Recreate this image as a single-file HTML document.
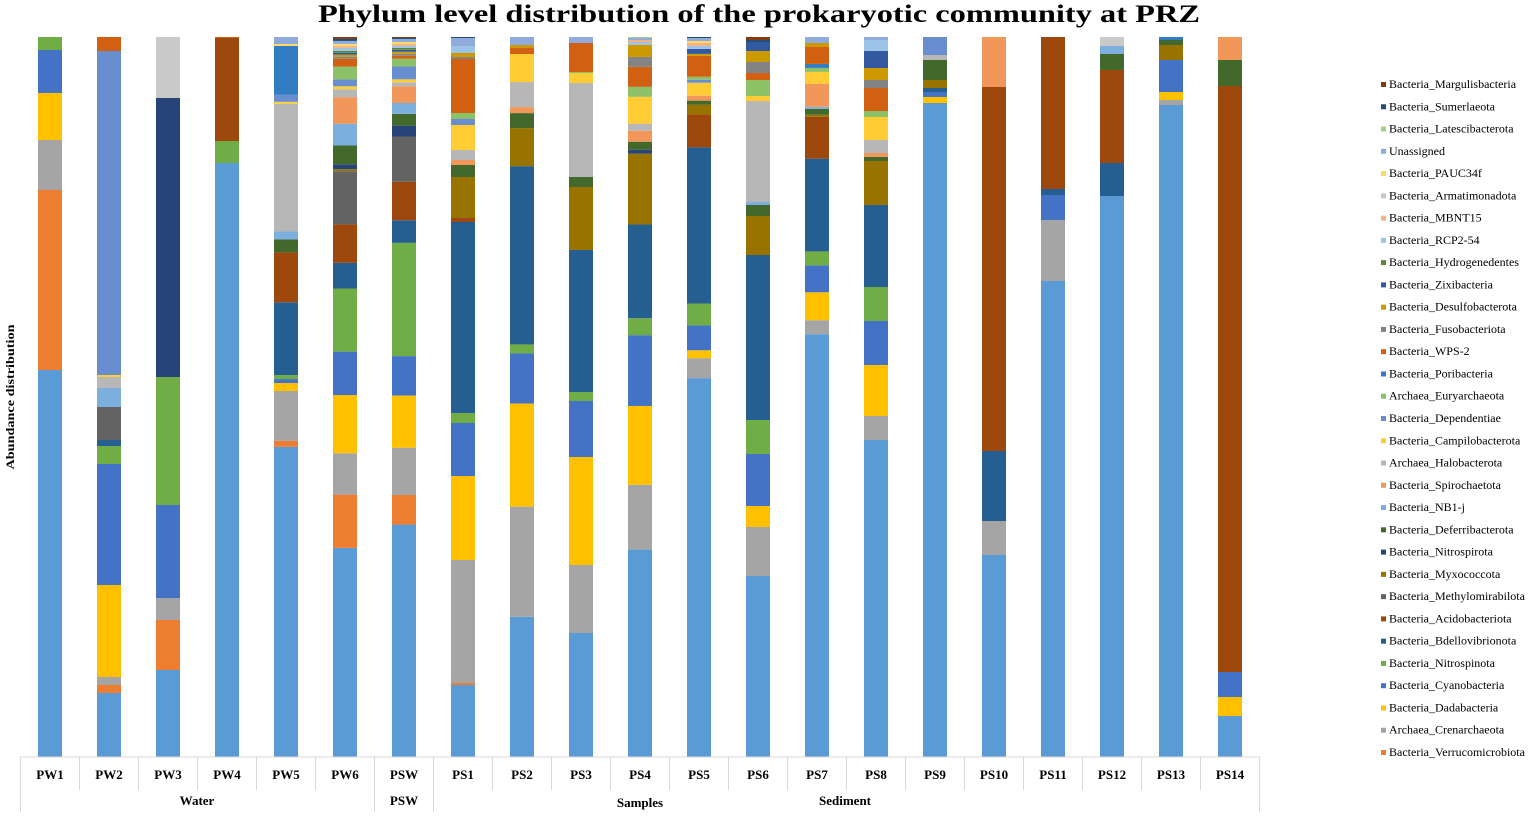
<!DOCTYPE html>
<html><head><meta charset="utf-8"><style>
body{margin:0;background:#fff;}
svg text{font-family:"Liberation Serif",serif;}
</style></head><body>
<svg id="chart" width="1535" height="814" xmlns="http://www.w3.org/2000/svg">
<text x="318" y="22" font-size="25" font-weight="bold" textLength="882" lengthAdjust="spacingAndGlyphs">Phylum level distribution of the prokaryotic community at PRZ</text>
<text transform="translate(14,397) rotate(-90)" text-anchor="middle" font-size="12" font-weight="bold" textLength="145" lengthAdjust="spacingAndGlyphs">Abundance  distribution</text>
<g id="bars"></g><g id="axis"></g><g id="legend"></g>
</svg>
<script>
const categories=["PW1","PW2","PW3","PW4","PW5","PW6","PSW","PS1","PS2","PS3","PS4","PS5","PS6","PS7","PS8","PS9","PS10","PS11","PS12","PS13","PS14"];
const seriesNames=["Bacteria_Proteobacteria","Bacteria_Verrucomicrobiota","Archaea_Crenarchaeota","Bacteria_Dadabacteria","Bacteria_Cyanobacteria","Bacteria_Nitrospinota","Bacteria_Bdellovibrionota","Bacteria_Acidobacteriota","Bacteria_Methylomirabilota","Bacteria_Myxococcota","Bacteria_Nitrospirota","Bacteria_Deferribacterota","Bacteria_NB1-j","Bacteria_Spirochaetota","Archaea_Halobacterota","Bacteria_Campilobacterota","Bacteria_Dependentiae","Archaea_Euryarchaeota","Bacteria_Poribacteria","Bacteria_WPS-2","Bacteria_Fusobacteriota","Bacteria_Desulfobacterota","Bacteria_Zixibacteria","Bacteria_Hydrogenedentes","Bacteria_RCP2-54","Bacteria_MBNT15","Bacteria_Armatimonadota","Bacteria_PAUC34f","Unassigned","Bacteria_Latescibacterota","Bacteria_Sumerlaeota","Bacteria_Margulisbacteria"];
const seriesColors=["#5B9BD5","#ED7D31","#A5A5A5","#FFC000","#4472C4","#70AD47","#255E91","#9E480E","#636363","#997300","#264478","#43682B","#7CAFDD","#F1975A","#B7B7B7","#FFCD33","#698ED0","#8CC168","#327DC2","#D26012","#848484","#CC9A00","#335AA1","#5A8A39","#9DC3E6","#F4B183","#C9C9C9","#FFD966","#8FAADC","#A9D18E","#1F4E79","#843C0C"];
const s0=[387,64,87,594,311,212,236,72,140,124,208,381,181,424,317,654,202,476,561,652,41];
const s1=[180,8,50,0,6,54,30,2,0,0,0,0,0,0,0,0,0,0,0,0,0];
const s2=[50,8,22,0,50,42,48,123,110,68,65,20,49,14,24,0,34,61,0,5,0];
const s3=[47,92,0,0,8,59,53,84,103,108,79,8,21,28,51,6,0,0,0,8,19];
const s4=[43,121,93,0,4,44,40,53,50,56,71,25,52,27,44,5,0,25,0,32,25];
const s5=[13,18,128,22,4,64,115,10,9,9,17,22,34,14,34,0,0,0,0,0,0];
const s6=[0,6,0,0,73,26,23,191,178,142,94,157,165,93,82,4,70,6,33,0,0];
const s7=[0,0,0,103,50,39,39,4,0,0,0,33,0,42,0,0,364,152,93,0,586];
const s8=[0,33,0,0,0,54,46,0,0,0,0,0,0,0,0,0,0,0,0,0,0];
const s9=[0,0,0,0,0,2,0,41,38,63,71,10,39,2,44,8,0,0,0,15,0];
const s10=[0,0,279,0,0,5,11,0,0,0,4,0,0,0,0,0,0,0,0,0,0];
const s11=[0,0,0,0,13,19,12,12,15,10,8,4,11,6,4,20,0,0,16,5,26];
const s12=[0,19,0,0,8,22,11,0,0,0,0,0,3,2,0,0,0,0,8,0,0];
const s13=[0,0,0,0,0,27,17,5,6,0,11,5,0,23,4,0,50,0,0,0,23];
const s14=[0,11,0,0,128,8,4,10,25,94,7,0,101,0,13,5,0,0,0,0,0];
const s15=[0,2,0,0,2,3,3,25,28,10,27,13,5,12,23,0,0,0,0,0,0];
const s16=[0,324,0,0,7,7,13,6,0,0,0,3,0,0,0,18,0,0,0,0,0];
const s17=[0,0,0,0,0,13,8,6,0,1,10,3,16,4,6,0,0,0,0,0,0];
const s18=[0,0,0,0,49,0,0,0,0,0,0,0,0,4,0,0,0,0,0,3,0];
const s19=[0,14,0,1,0,8,3,54,6,29,20,21,7,17,23,0,0,0,0,0,0];
const s20=[0,0,0,0,0,2,2,2,0,0,10,0,11,0,8,0,0,0,0,0,0];
const s21=[0,0,0,0,0,2,2,4,3,0,12,2,11,4,12,0,0,0,0,0,0];
const s22=[0,0,0,0,0,2,2,0,0,0,0,5,9,0,17,0,0,0,0,0,0];
const s23=[0,0,0,0,0,2,2,0,0,0,0,0,0,0,0,0,0,0,0,0,0];
const s24=[0,0,0,0,0,3,2,7,0,0,3,3,0,0,11,0,0,0,0,0,0];
const s25=[0,0,0,0,0,2,2,0,0,0,2,3,0,0,0,0,0,0,0,0,0];
const s26=[0,0,61,0,0,0,0,0,0,0,0,0,0,0,0,0,0,0,9,0,0];
const s27=[0,0,0,0,2,2,2,0,0,0,0,2,0,0,0,0,0,0,0,0,0];
const s28=[0,0,0,0,7,3,3,8,8,6,2,3,0,6,3,0,0,0,0,0,0];
const s29=[0,0,0,0,0,0,0,0,0,0,1,0,0,0,0,0,0,0,0,0,0];
const s30=[0,0,0,0,0,2,1,1,0,0,0,1,2,0,0,0,0,0,0,0,0];
const s31=[0,0,0,0,0,2,1,0,0,0,0,0,3,0,0,0,0,0,0,0,0];
const seriesValues=[s0,s1,s2,s3,s4,s5,s6,s7,s8,s9,s10,s11,s12,s13,s14,s15,s16,s17,s18,s19,s20,s21,s22,s23,s24,s25,s26,s27,s28,s29,s30,s31];
const groupLabels=["Water","PSW","Samples","Sediment"];

const NS="http://www.w3.org/2000/svg";
const plotLeft=20.5, step=59, plotTop=37, plotBottom=757, barW=24;
function xCenter(i){return plotLeft+step*i+step/2;}
function yScale(f){return plotBottom-f*(plotBottom-plotTop);}
function mk(tag,attrs,parent){const e=document.createElementNS(NS,tag);for(const k in attrs)e.setAttribute(k,attrs[k]);parent.appendChild(e);return e;}

const gb=document.getElementById('bars');
categories.forEach((c,i)=>{
  let total=0; seriesValues.forEach(s=>total+=s[i]);
  let cum=0;
  seriesValues.forEach((s,k)=>{
    const v=s[i]; if(!v) return;
    const y1=yScale(cum/total), y2=yScale((cum+v)/total); cum+=v;
    const r=mk('rect',{x:xCenter(i)-barW/2,y:y2,width:barW,height:y1-y2,fill:seriesColors[k]},gb);
    
    
  });
});

const ga=document.getElementById('axis');
const lc="#D9D9D9";
mk('line',{x1:plotLeft,y1:plotBottom,x2:plotLeft+step*categories.length,y2:plotBottom,stroke:lc,'stroke-width':1},ga);
for(let i=0;i<=categories.length;i++){
  const x=plotLeft+step*i;
  const full=(i===0||i===6||i===7||i===categories.length);
  mk('line',{x1:x,y1:plotBottom,x2:x,y2:full?812:790,stroke:lc,'stroke-width':1},ga);
}
categories.forEach((c,i)=>{
  const t=mk('text',{x:xCenter(i),y:779,'text-anchor':'middle','font-size':13,'font-weight':'bold'},ga);
  t.textContent=c;
  
  
});
const gpos=[[197,805],[404,805],[640,807],[845,805]];
groupLabels.forEach((g,i)=>{
  const t=mk('text',{x:gpos[i][0],y:gpos[i][1],'text-anchor':'middle','font-size':13,'font-weight':'bold'},ga);
  t.textContent=g;
  
  
});

const gl=document.getElementById('legend');
const legTop=87, legStep=(755-87)/30;
for(let k=31;k>=1;k--){
  const row=31-k, y=legTop+row*legStep;
  const g=mk('g',{},gl);
  
  
  mk('rect',{x:1381,y:y-5,width:5,height:5,fill:seriesColors[k]},g);
  const t=mk('text',{x:1389,y:y+1,'font-size':12},g);
  t.textContent=seriesNames[k];
}
</script>
</body></html>
